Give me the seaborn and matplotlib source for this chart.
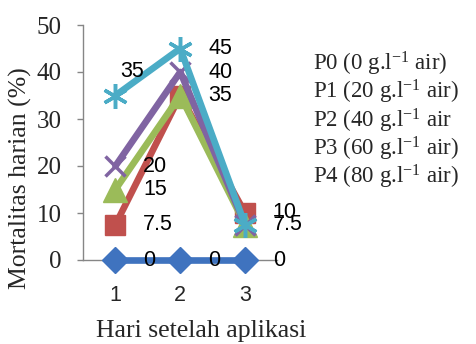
import matplotlib
matplotlib.use("Agg")
import matplotlib.pyplot as plt
import seaborn as sns
import pandas as pd

# ---- data ----
days = [1, 2, 3]
series_names = ["P0 (0 g.l$^{-1}$ air)", "P1 (20 g.l$^{-1}$ air)", "P2 (40 g.l$^{-1}$ air",
                "P3 (60 g.l$^{-1}$ air)", "P4 (80 g.l$^{-1}$ air)"]
p0 = [0, 0, 0]
p1 = [7.5, 35, 10]
p2 = [15, 35, 7.5]
p3 = [20, 40, 7.5]
p4 = [35, 45, 7.5]
values = [p0, p1, p2, p3, p4]
yticks = [0, 10, 20, 30, 40, 50]
xlabel = "Hari setelah aplikasi"
ylabel = "Mortalitas harian (%)"

# ---- style ----
sns.set_style("white")
plt.rcParams["font.family"] = ["Liberation Serif", "DejaVu Serif"]
plt.rcParams["mathtext.default"] = "regular"

colors = ["#3F73BF", "#C0504D", "#9BBB59", "#8064A2", "#4BACC6"]
markers = ["D", "s", "^", "x", (6, 2, 0)]
msizes = [13, 15, 17, 15, 18]
mews = [1, 1, 1, 2.5, 2.5]

fig = plt.figure(figsize=(4.76, 3.44), dpi=100)
ax = fig.add_axes([83 / 476, 84 / 344, 194.5 / 476, 235 / 344])

handles = []
for i, vals in enumerate(values):
    df = pd.DataFrame({"hari": days, "mort": vals})
    sns.lineplot(data=df, x="hari", y="mort", ax=ax, color=colors[i], marker=markers[i],
                 markersize=msizes[i], markeredgecolor=colors[i], markerfacecolor=colors[i],
                 markeredgewidth=mews[i], linewidth=4.8, clip_on=False, zorder=3 + i,
                 legend=False)
    handles.append(ax.lines[-1])

# data labels (identical labels at the same spot are drawn once)
seen = set()
for i, vals in enumerate(values):
    for d, v in zip(days, vals):
        if (d, v) in seen:
            continue
        seen.add((d, v))
        off = (20, 0)
        if i == 4 and d == 1:
            off = (3.5, 17)
        lab = f"{v:g}"
        ax.annotate(lab, (d, v), xytext=off, textcoords="offset points", ha="left",
                    va="center", fontsize=15.5, family=["Liberation Sans", "DejaVu Sans"],
                    color="black", zorder=20, annotation_clip=False)

ax.set_xlim(0.5, 3.5)
ax.set_ylim(0, 50)
ax.set_xticks(days)
ax.set_xticklabels([str(d) for d in days], family=["Liberation Sans", "DejaVu Sans"], fontsize=15.5)
ax.set_yticks(yticks)
ax.set_yticklabels([str(t) for t in yticks], fontsize=18)
ax.tick_params(axis="x", length=0, pad=18)
ax.tick_params(axis="y", length=4.5, width=1, color="#868686", direction="out", pad=11, left=True)
for s in ["top", "right"]:
    ax.spines[s].set_visible(False)
for s in ["left", "bottom"]:
    ax.spines[s].set_color("#868686")
    ax.spines[s].set_linewidth(1)
ax.set_xlabel("")
ax.set_ylabel("")

fig.text(20 / 476, 1 - 178 / 344, ylabel, rotation=90, ha="center", va="center", fontsize=18.5)
fig.text(201 / 476, 1 - 331 / 344, xlabel, ha="center", va="center", fontsize=18.5)

leg = ax.legend(handles, series_names, loc="upper left",
                bbox_to_anchor=(313 / 476, 1 - 50 / 344), bbox_transform=fig.transFigure,
                frameon=False, fontsize=16.5, handlelength=0, handletextpad=0,
                labelspacing=0.0, borderpad=0, borderaxespad=0)
for h in leg.legend_handles:
    h.set_visible(False)

fig.savefig("out.png", dpi=100)
